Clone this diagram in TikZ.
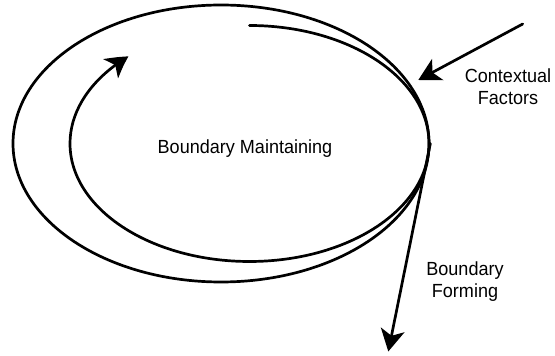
\documentclass[tikz,border=0pt]{standalone}
\usepackage{fontspec}
\newfontfamily\labelfont{Liberation Sans}[FakeStretch=0.95]
\usetikzlibrary{arrows.meta,bending,shapes.geometric}
\begin{document}
\begin{tikzpicture}[x=1pt,y=1pt,
  curve/.style={line width=2.7pt},
  headarrow/.style={curve,line cap=round,-{Stealth[length=22pt,width=24pt,inset=6pt,bend]}},
  lbl/.style={font=\labelfont\fontsize{19}{22}\selectfont,align=center,inner sep=0pt}]
\useasboundingbox (0,0) rectangle (555,356);
% outer boundary
\node[curve,draw,ellipse,minimum width=416pt,minimum height=277pt,inner sep=0pt] (outer) at (221,212.5) {};
% inner spiral
\coordinate (innerstart) at (249.5,330.5);
\draw[headarrow] (innerstart) arc[start angle=90,end angle=-227.6,x radius=179.5pt,y radius=118pt];
% labels
\node[lbl,anchor=base] (maint) at (245,202.7) {Boundary Maintaining};
\node[lbl] (context) at (508,269.5) {Contextual\\Factors};
\node[lbl] (forming) at (465,74) {Boundary\\Forming};
% contextual factors arrow
\coordinate (ctail) at (522.7,332);
\coordinate (ctip) at (418.3,276);
\draw[headarrow] (ctail) -- (ctip);
% boundary forming arrow
\coordinate (ftip) at (388.3,4.5);
\draw[headarrow] (outer.east) -- (ftip);
\end{tikzpicture}
\end{document}
